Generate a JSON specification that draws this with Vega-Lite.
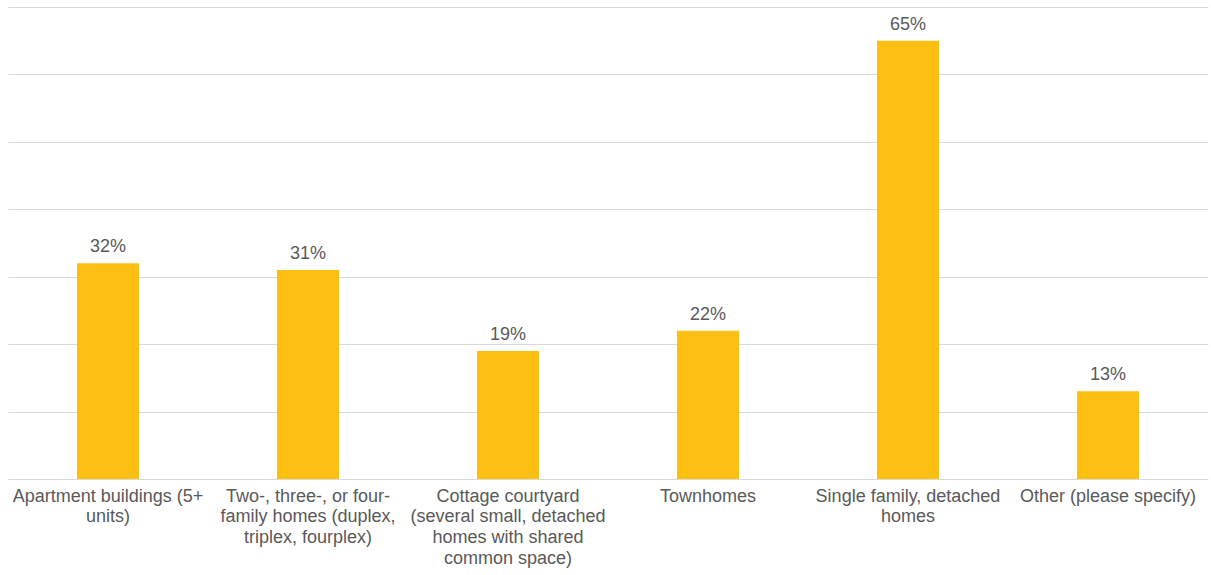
{
  "$schema": "https://vega.github.io/schema/vega-lite/v6.json",
  "width": 1200,
  "height": 472,
  "autosize": {"type": "none"},
  "padding": {"left": 8, "top": 7, "right": 3, "bottom": 96},
  "background": "white",
  "config": {"view": {"stroke": null}, "font": "Liberation Sans"},
  "data": {
    "values": [
      {"type": "Apartment buildings (5+\nunits)", "share": 0.32},
      {"type": "Two-, three-, or four-\nfamily homes (duplex,\ntriplex, fourplex)", "share": 0.31},
      {"type": "Cottage courtyard\n(several small, detached\nhomes with shared\ncommon space)", "share": 0.19},
      {"type": "Townhomes", "share": 0.22},
      {"type": "Single family, detached\nhomes", "share": 0.65},
      {"type": "Other (please specify)", "share": 0.13}
    ]
  },
  "encoding": {
    "x": {
      "field": "type", "type": "nominal", "sort": null,
      "scale": {"paddingInner": 0.69, "paddingOuter": 0.345},
      "axis": {
        "title": null, "domain": false, "ticks": false, "labelAngle": 0,
        "labelExpr": "split(datum.value, '\\n')",
        "labelFont": "Liberation Sans", "labelFontSize": 18, "labelColor": "#595959",
        "labelLineHeight": 20.7, "labelPadding": 8, "labelLimit": 300, "labelBaseline": "top"
      }
    },
    "y": {
      "field": "share", "type": "quantitative",
      "scale": {"domain": [0, 0.7], "nice": false},
      "axis": {
        "title": null, "labels": false, "ticks": false, "domain": false,
        "values": [0, 0.1, 0.2, 0.3, 0.4, 0.5, 0.6, 0.7],
        "gridColor": "#d9d9d9", "gridWidth": 1.2
      }
    }
  },
  "layer": [
    {"mark": {"type": "bar", "color": "#FCBF12"}},
    {
      "mark": {"type": "text", "baseline": "alphabetic", "dy": -11, "fontSize": 18, "color": "#595959", "font": "Liberation Sans"},
      "encoding": {"text": {"field": "share", "type": "quantitative", "format": ".0%"}}
    }
  ]
}
